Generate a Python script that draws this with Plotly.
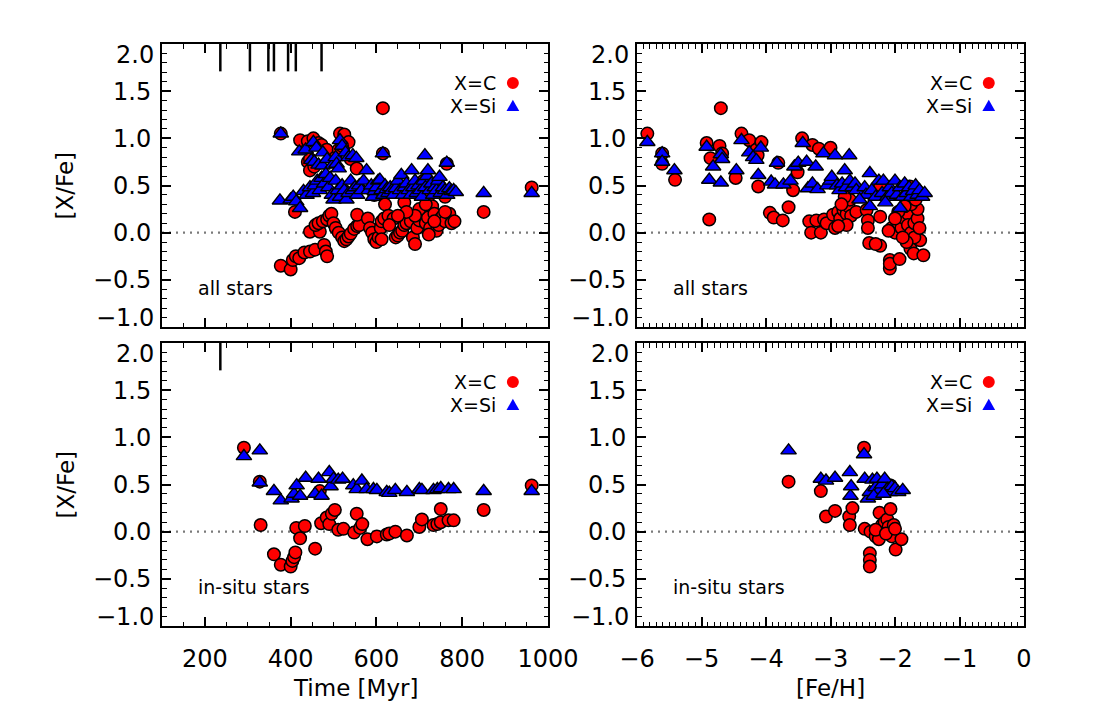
import plotly.graph_objects as go

# ---------------- DATA ----------------
# Top-left: all stars, [X/Fe] vs time [Myr]
all_c_time = [377, 422, 440, 453, 465, 472, 484, 440, 445, 445, 455, 515, 525, 535, 505, 512, 520, 540, 554,
              615, 615, 764, 962, 850, 410, 650, 710, 720, 760, 745, 665, 620, 595,
              377, 400, 405, 412, 420, 432, 445, 457, 478, 482, 485, 445, 468, 458, 465, 475, 485, 490, 495,
              500, 505, 512, 520, 525, 530, 535, 540, 548, 555, 560, 555, 580, 585, 590, 595, 600, 605, 610,
              612, 618, 628, 640, 645, 650, 655, 660, 665, 670, 680, 685, 690, 695, 700, 705, 710, 715, 720,
              725, 730, 735, 740, 745, 750, 755, 760, 770, 775, 782, 700, 690, 670, 630, 612, 650, 722, 735,
              715, 760]
all_c_val = [1.05, 0.98, 0.97, 1.00, 0.95, 0.93, 0.88, 0.75, 0.78, 0.66, 0.70, 1.05, 1.04, 0.96, 0.80, 0.88, 0.92,
             0.78, 0.68, 1.32, 0.84, 0.73, 0.48, 0.22, 0.22, 0.50, 0.55, 0.37, 0.38, 0.50, 0.32, 0.30, 0.40,
             -0.35, -0.39, -0.29, -0.25, -0.27, -0.21, -0.20, -0.18, -0.13, -0.20, -0.25, 0.01, 0.01, 0.08, 0.10,
             0.12, 0.14, 0.18, 0.20, 0.10, 0.05, 0.00, -0.05, -0.09, -0.07, -0.04, -0.01, 0.04, 0.07, 0.08, 0.19,
             0.15, 0.05, 0.00, -0.07, -0.10, -0.05, 0.05, 0.12, 0.15, 0.18, 0.15, -0.05, -0.03, 0.00, 0.02, 0.08,
             0.10, 0.12, -0.05, -0.12, 0.05, 0.13, 0.20, 0.22, 0.10, 0.16, 0.05, 0.28, 0.20, 0.02, 0.08, 0.15,
             0.18, 0.12, 0.20, 0.10, 0.12, 0.25, 0.18, 0.22, 0.08, -0.07, 0.18, -0.02, 0.12, 0.30, 0.22]
all_si_time = [377, 420, 435, 453, 460, 448, 455, 465, 474, 475, 485, 498, 505, 515, 520, 528, 535, 545, 553, 507,
               512, 615, 764, 713,
               375, 400, 406, 413, 422, 430, 437, 445, 452, 456, 462, 468, 472, 478, 482, 488, 492, 496, 500,
               505, 510, 515, 520, 525, 530, 535, 540, 545, 550, 555, 560, 565, 570, 577, 582, 588, 592, 596,
               600, 604, 608, 612, 616, 620, 624, 628, 632, 636, 640, 645, 650, 655, 658, 662, 666, 670, 675,
               680, 682, 686, 690, 694, 698, 702, 706, 710, 714, 718, 720, 724, 728, 732, 736, 740, 744, 747,
               750, 755, 760, 765, 770, 775, 780, 785, 850, 962]
all_si_val = [1.05, 0.86, 0.88, 0.96, 0.90, 0.77, 0.75, 0.72, 0.71, 0.85, 0.78, 0.72, 0.80, 0.98, 0.92, 0.85, 0.80,
              0.82, 0.79, 0.73, 0.68, 0.84, 0.74, 0.82,
              0.34, 0.35, 0.38, 0.33, 0.26, 0.44, 0.40, 0.48, 0.42, 0.50, 0.55, 0.45, 0.58, 0.52, 0.62, 0.48,
              0.58, 0.40, 0.35, 0.55, 0.45, 0.38, 0.50, 0.45, 0.35, 0.42, 0.55, 0.45, 0.48, 0.40, 0.50, 0.45,
              0.55, 0.66, 0.45, 0.50, 0.38, 0.44, 0.48, 0.55, 0.56, 0.45, 0.40, 0.50, 0.46, 0.42, 0.48, 0.45,
              0.40, 0.47, 0.55, 0.45, 0.61, 0.40, 0.48, 0.52, 0.45, 0.40, 0.66, 0.48, 0.55, 0.42, 0.50, 0.45,
              0.38, 0.55, 0.48, 0.60, 0.66, 0.45, 0.52, 0.40, 0.48, 0.45, 0.55, 0.59, 0.42, 0.48, 0.45, 0.40,
              0.47, 0.44, 0.45, 0.43, 0.42, 0.42]

# Top-right: all stars, [X/Fe] vs [Fe/H]
all_c_feh = [-5.84, -5.61, -5.61, -5.41, -4.92, -4.88, -4.86, -4.72, -4.70, -4.68, -4.47, -4.38, -4.26, -4.15,
             -4.07, -4.13, -4.12, -3.81, -3.94, -3.88, -3.74, -3.65, -3.58, -3.51, -3.44, -3.28, -3.18, -3.00,
             -3.33, -3.22, -3.10, -3.30, -3.15, -3.06, -2.96, -2.93, -2.88, -2.85, -2.80, -2.75, -2.72, -2.70,
             -2.78, -2.83, -2.68, -2.60, -2.75, -2.88, -2.44, -2.42, -2.42, -2.40, -2.23, -2.23, -2.30, -2.23,
             -2.08, -2.08, -2.08, -1.93, -2.05, -2.00, -1.95, -1.90, -1.85, -1.80, -1.80, -1.76, -1.71, -1.75,
             -1.70, -1.65, -1.65, -1.61, -1.56, -1.75, -1.85, -1.95, -2.00, -1.77, -1.70, -1.82, -1.88, -2.10,
             -1.62, -1.68]
all_c_val2 = [1.05, 0.84, 0.73, 0.56, 0.95, 0.14, 0.79, 0.92, 1.32, 0.84, 0.58, 1.05, 0.98, 0.88, 0.96, 0.82,
              0.49, 0.74, 0.21, 0.16, 0.13, 0.27, 0.45, 0.64, 1.00, 0.93, 0.89, 0.90, 0.12, 0.13, 0.14, 0.00,
              0.00, 0.10, 0.19, 0.05, 0.22, 0.15, 0.24, 0.20, 0.28, 0.35, 0.38, 0.30, 0.18, 0.22, 0.08, 0.07,
              0.24, 0.13, 0.05, -0.11, 0.17, -0.14, -0.12, 0.50, -0.29, -0.38, -0.33, -0.28, 0.05, 0.00, 0.10,
              0.05, 0.15, 0.20, 0.08, -0.17, -0.22, 0.00, 0.10, 0.15, 0.25, -0.08, -0.24, 0.30, 0.28, 0.22,
              0.15, 0.49, -0.05, -0.10, -0.05, 0.02, 0.05, 0.35]
all_si_feh = [-5.84, -5.61, -5.61, -5.42, -4.92, -4.88, -4.82, -4.70, -4.70, -4.68, -4.46, -4.38, -4.26, -4.20,
              -4.15, -4.08, -4.12, -3.83, -3.92, -3.86, -3.73, -3.62, -3.56, -3.50, -3.43, -3.37, -3.35, -3.28,
              -3.23, -3.11, -3.20, -3.05, -3.00, -2.98, -2.93, -2.90, -2.86, -2.82, -2.78, -2.76, -2.71, -2.70,
              -2.66, -2.62, -2.60, -2.47, -2.45, -2.39, -2.39, -2.36, -2.30, -2.25, -2.20, -2.18, -2.12, -2.08,
              -2.05, -2.00, -1.97, -1.92, -1.92, -1.88, -1.85, -1.82, -1.78, -1.75, -1.72, -1.68, -1.65, -1.62,
              -1.58, -1.54, -2.15, -2.55]
all_si_val2 = [0.96, 0.84, 0.75, 0.66, 0.91, 0.56, 0.70, 0.53, 0.83, 0.78, 0.66, 0.98, 0.85, 0.80, 0.77, 0.90,
               0.61, 0.74, 0.54, 0.51, 0.51, 0.55, 0.70, 0.74, 0.95, 0.75, 0.47, 0.52, 0.70, 0.84, 0.46, 0.50,
               0.55, 0.59, 0.82, 0.50, 0.45, 0.52, 0.66, 0.48, 0.82, 0.55, 0.48, 0.52, 0.45, 0.48, 0.40, 0.63,
               0.28, 0.45, 0.38, 0.55, 0.42, 0.55, 0.38, 0.48, 0.42, 0.55, 0.40, 0.26, 0.48, 0.38, 0.52, 0.42,
               0.48, 0.38, 0.44, 0.50, 0.40, 0.45, 0.38, 0.42, 0.32, 0.35]

# Bottom-left: in-situ stars, [X/Fe] vs time [Myr]
situ_c_time = [291, 328, 330, 361, 377, 400, 404, 408, 411, 413, 422, 433, 457, 468, 471, 484, 490, 496, 503,
               511, 523, 548, 554, 562, 567, 579, 601, 624, 630, 644, 671, 700, 706, 733, 742, 750, 750, 768,
               780, 850, 962]
situ_c_val = [0.89, 0.53, 0.07, -0.24, -0.35, -0.37, -0.31, -0.27, -0.22, 0.04, -0.07, 0.06, -0.18, 0.43, 0.09,
              0.15, 0.08, 0.19, 0.23, 0.02, 0.03, -0.01, 0.19, 0.04, 0.08, -0.08, -0.05, -0.03, -0.02, 0.00,
              -0.04, 0.05, 0.13, 0.07, 0.08, 0.10, 0.24, 0.12, 0.12, 0.23, 0.49]
situ_si_time = [291, 328, 328, 361, 377, 402, 408, 414, 422, 435, 457, 465, 472, 490, 493, 500, 511, 521, 546,
                554, 566, 577, 593, 601, 624, 630, 644, 671, 700, 706, 733, 742, 750, 768, 780, 850, 962]
situ_si_val = [0.80, 0.86, 0.52, 0.43, 0.33, 0.35, 0.40, 0.49, 0.38, 0.57, 0.40, 0.56, 0.38, 0.63, 0.48, 0.56,
               0.55, 0.56, 0.49, 0.45, 0.54, 0.45, 0.45, 0.44, 0.42, 0.41, 0.44, 0.42, 0.45, 0.44, 0.44, 0.45,
               0.46, 0.45, 0.45, 0.43, 0.43]

# Bottom-right: in-situ stars, [X/Fe] vs [Fe/H]
situ_c_feh = [-3.65, -3.15, -3.07, -2.93, -2.71, -2.70, -2.66, -2.48, -2.47, -2.39, -2.39, -2.39, -2.38, -2.30,
              -2.25, -2.24, -2.20, -2.16, -2.12, -2.10, -2.07, -2.07, -2.05, -2.02, -1.99, -1.90, -2.30, -2.14,
              -2.00]
situ_c_val2 = [0.53, 0.43, 0.16, 0.22, 0.16, 0.07, 0.25, 0.89, 0.03, -0.23, -0.30, -0.37, 0.00, -0.05, -0.08,
               0.20, 0.07, 0.10, 0.13, 0.05, 0.24, 0.49, -0.05, 0.07, -0.19, -0.08, 0.02, -0.02, 0.03]
situ_si_feh = [-3.65, -3.15, -3.07, -2.93, -2.70, -2.69, -2.68, -2.48, -2.47, -2.42, -2.39, -2.35, -2.30, -2.28,
               -2.24, -2.20, -2.16, -2.12, -2.08, -2.05, -2.00, -1.95, -1.88, -2.33, -2.18]
situ_si_val2 = [0.86, 0.56, 0.54, 0.57, 0.63, 0.38, 0.48, 0.82, 0.56, 0.35, 0.42, 0.55, 0.47, 0.56, 0.44, 0.50,
                0.56, 0.45, 0.42, 0.48, 0.46, 0.42, 0.44, 0.38, 0.40]

# Event markers (vertical bars at top of the time panels)
events_all = [236, 305, 348, 361, 394, 412, 472]
events_situ = [236]

# Y tick values / labels (end labels are drawn nudged inward, as in the original)
y_ticks = [-1.0, -0.5, 0.0, 0.5, 1.0, 1.5, 2.0]
y_ticktext = ["", "\u22120.5", "0.0", "0.5", "1.0", "1.5", ""]
y_end_labels = ["2.0", "\u22121.0"]

panel_labels = ["all stars", "all stars", "in-situ stars", "in-situ stars"]
legend_labels = ["X=C", "X=Si"]

# ---------------- FIGURE ----------------
W, H = 1105, 709
FONT = "DejaVu Sans"
RED, BLUE = "#ff0000", "#0000ff"

XL = (162, 548)
XR = (637, 1024)
YT = (44, 327)
YB = (343, 626)

xl = [XL[0] / W, XL[1] / W]
xr = [XR[0] / W, XR[1] / W]
yt = [1 - YT[1] / H, 1 - YT[0] / H]
yb = [1 - YB[1] / H, 1 - YB[0] / H]

fig = go.Figure()

panels = [
    ("x", "y", all_c_time, all_c_val, all_si_time, all_si_val, events_all, XL, YT),
    ("x2", "y2", all_c_feh, all_c_val2, all_si_feh, all_si_val2, None, XR, YT),
    ("x3", "y3", situ_c_time, situ_c_val, situ_si_time, situ_si_val, events_situ, XL, YB),
    ("x4", "y4", situ_c_feh, situ_c_val2, situ_si_feh, situ_si_val2, None, XR, YB),
]

for xa, ya, cx, cy, sx, sy, ev, _px, _py in panels:
    fig.add_trace(go.Scatter(x=cx, y=cy, mode="markers", xaxis=xa, yaxis=ya, showlegend=False,
                             marker=dict(symbol="circle", size=12.5, color=RED,
                                         line=dict(color="black", width=1.5))))
    fig.add_trace(go.Scatter(x=sx, y=sy, mode="markers", xaxis=xa, yaxis=ya, showlegend=False,
                             marker=dict(symbol="triangle-up", size=13.5, color=BLUE,
                                         line=dict(color="black", width=1.4))))
    if ev:
        ex, ey = [], []
        for t in ev:
            ex += [t, t, None]
            ey += [1.71, 2.0, None]
        fig.add_trace(go.Scatter(x=ex, y=ey, mode="lines", xaxis=xa, yaxis=ya, showlegend=False,
                                 line=dict(color="black", width=2.5)))


def xaxis(domain, rng, dtick, mdtick, anchor, labels):
    return dict(domain=domain, range=rng, anchor=anchor, dtick=dtick, tick0=0, automargin=False,
                ticks="inside", ticklen=9, tickwidth=1.5, tickcolor="black",
                mirror="allticks", showline=True, linewidth=2, linecolor="black",
                showgrid=False, zeroline=False, showticklabels=labels,
                ticklabelstandoff=10,
                tickfont=dict(family=FONT, size=24, color="black"),
                minor=dict(dtick=mdtick, ticks="inside", ticklen=4.5, tickwidth=1,
                           tickcolor="black", showgrid=False))


def yaxis(domain, anchor):
    return dict(domain=domain, range=[-1, 2], anchor=anchor, automargin=False,
                tickmode="array", tickvals=y_ticks, ticktext=y_ticktext,
                ticks="inside", ticklen=9, tickwidth=1.5, tickcolor="black",
                mirror="allticks", showline=True, linewidth=2, linecolor="black",
                showgrid=False, zeroline=False, ticklabelstandoff=4,
                tickfont=dict(family=FONT, size=24, color="black"),
                minor=dict(dtick=0.1, tick0=0, ticks="inside", ticklen=4.5, tickwidth=1,
                           tickcolor="black", showgrid=False))


fig.update_layout(
    width=W, height=H,
    margin=dict(l=0, r=0, t=0, b=0),
    paper_bgcolor="white", plot_bgcolor="white",
    font=dict(family=FONT, color="black"),
    xaxis=xaxis(xl, [100, 1000], 200, 50, "y", False),
    yaxis=yaxis(yt, "x"),
    xaxis2=xaxis(xr, [-6, 0], 1, 0.1, "y2", False),
    yaxis2=yaxis(yt, "x2"),
    xaxis3=xaxis(xl, [100, 1000], 200, 50, "y3", True),
    yaxis3=yaxis(yb, "x3"),
    xaxis4=xaxis(xr, [-6, 0], 1, 0.1, "y4", True),
    yaxis4=yaxis(yb, "x4"),
)

shapes = []
annotations = []
for i, (xa, ya, _a, _b, _c, _d, _e, px, py) in enumerate(panels):
    xd = xa + " domain"
    yd = ya + " domain"
    # dotted zero line
    shapes.append(dict(type="line", xref=xd, yref=ya, x0=0, x1=1, y0=0, y1=0,
                       line=dict(color="#7a7a7a", width=2.2, dash="2px,5px"), layer="below"))
    # legend keys
    cxk, cyk = 0.909, 0.862
    shapes.append(dict(type="circle", xref=xd, yref=yd,
                       x0=cxk - 0.0155, x1=cxk + 0.0155, y0=cyk - 0.021, y1=cyk + 0.021,
                       fillcolor=RED, line=dict(width=0)))
    tyk = 0.781
    shapes.append(dict(type="path", xref=xd, yref=yd,
                       path=f"M {cxk - 0.0165},{tyk - 0.018} L {cxk + 0.0165},{tyk - 0.018} "
                            f"L {cxk},{tyk + 0.022} Z",
                       fillcolor=BLUE, line=dict(width=0)))
    annotations.append(dict(xref=xd, yref=yd, x=0.870, y=0.862, text=legend_labels[0],
                            showarrow=False, xanchor="right", yanchor="middle",
                            font=dict(family=FONT, size=19, color="black")))
    annotations.append(dict(xref=xd, yref=yd, x=0.870, y=0.781, text=legend_labels[1],
                            showarrow=False, xanchor="right", yanchor="middle",
                            font=dict(family=FONT, size=19, color="black")))
    annotations.append(dict(xref=xd, yref=yd, x=0.088, y=0.138, text=panel_labels[i],
                            showarrow=False, xanchor="left", yanchor="middle",
                            font=dict(family=FONT, size=19, color="black")))
    # end labels of the y axis, nudged inward
    lx = (px[0] - 6) / W
    annotations.append(dict(xref="paper", yref="paper", x=lx, y=1 - (py[0] + 11) / H,
                            text=y_end_labels[0], showarrow=False, xanchor="right", yanchor="middle",
                            font=dict(family=FONT, size=24, color="black")))
    annotations.append(dict(xref="paper", yref="paper", x=lx, y=1 - (py[1] - 9) / H,
                            text=y_end_labels[1], showarrow=False, xanchor="right", yanchor="middle",
                            font=dict(family=FONT, size=24, color="black")))

# axis titles
annotations.append(dict(xref="paper", yref="paper", x=65 / W, y=1 - 185.5 / H, text="[X/Fe]",
                        textangle=-90, showarrow=False, xanchor="center", yanchor="middle",
                        font=dict(family=FONT, size=23, color="black")))
annotations.append(dict(xref="paper", yref="paper", x=65 / W, y=1 - 484.5 / H, text="[X/Fe]",
                        textangle=-90, showarrow=False, xanchor="center", yanchor="middle",
                        font=dict(family=FONT, size=23, color="black")))
annotations.append(dict(xref="paper", yref="paper", x=355 / W, y=1 - 688 / H, text="Time [Myr]",
                        showarrow=False, xanchor="center", yanchor="middle",
                        font=dict(family=FONT, size=23, color="black")))
annotations.append(dict(xref="paper", yref="paper", x=830 / W, y=1 - 688 / H, text="[Fe/H]",
                        showarrow=False, xanchor="center", yanchor="middle",
                        font=dict(family=FONT, size=23, color="black")))

fig.update_layout(shapes=shapes, annotations=annotations)
fig.write_html("out.html")
